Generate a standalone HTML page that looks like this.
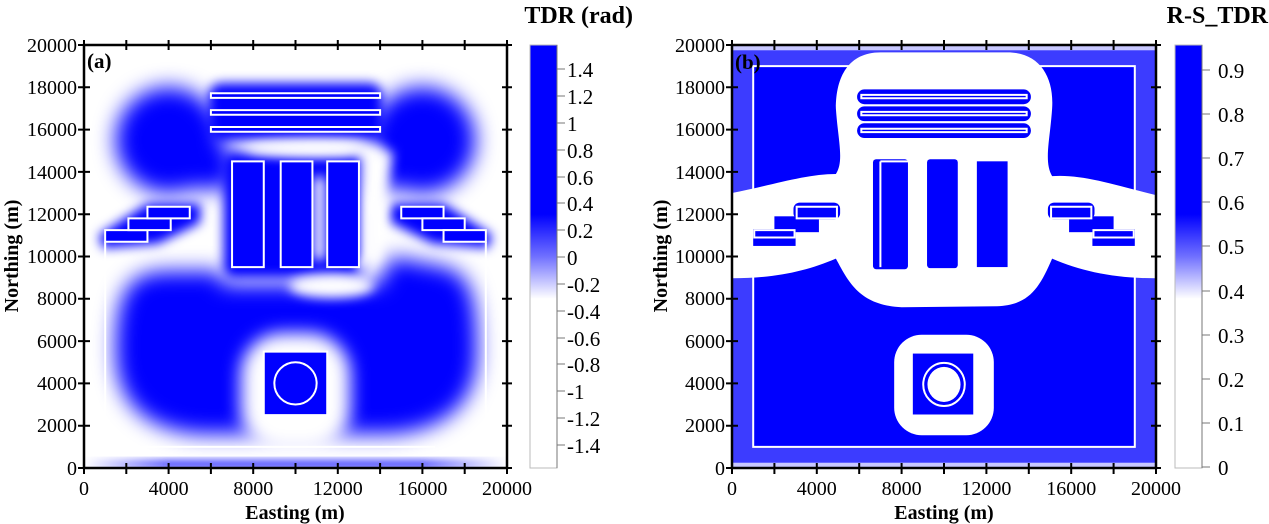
<!DOCTYPE html>
<html><head><meta charset="utf-8"><style>
html,body{margin:0;padding:0;background:#fff;}
svg{display:block;font-family:"Liberation Serif",serif;}
</style></head><body>
<svg width="1269" height="524" viewBox="0 0 1269 524" xmlns="http://www.w3.org/2000/svg">
<defs>
<filter id="b7" x="-50%" y="-50%" width="200%" height="200%"><feGaussianBlur stdDeviation="500"/></filter>
<filter id="b5" x="-50%" y="-50%" width="200%" height="200%"><feGaussianBlur stdDeviation="420"/></filter>
<filter id="b4" x="-50%" y="-50%" width="200%" height="200%"><feGaussianBlur stdDeviation="260"/></filter>
<filter id="b2" x="-50%" y="-50%" width="200%" height="200%"><feGaussianBlur stdDeviation="200"/></filter>
<linearGradient id="cb" x1="0" y1="0" x2="0" y2="1">
<stop offset="0" stop-color="#0000ff"/><stop offset="0.40" stop-color="#0000ff"/><stop offset="0.5" stop-color="#7070ff"/><stop offset="0.6" stop-color="#ffffff"/><stop offset="1" stop-color="#ffffff"/>
</linearGradient>
<linearGradient id="bs" x1="0" y1="0" x2="1" y2="0">
<stop offset="0" stop-color="#fff"/><stop offset="0.2" stop-color="#2020ff"/><stop offset="0.8" stop-color="#2020ff"/><stop offset="1" stop-color="#fff"/>
</linearGradient>
</defs>

<!-- ===== PLOT A ===== -->
<svg x="84" y="45" width="423" height="423" viewBox="0 0 20000 20000" preserveAspectRatio="none">
<g transform="translate(0,20000) scale(1,-1)">
<rect width="20000" height="20000" fill="#fff"/>
<g fill="#0000ff">
<g filter="url(#b7)">
<path d="M1500 5500 C1500 8500 2200 9300 4000 9300 L6500 9300 L6500 8700 L14000 8700 L14500 10000 L17000 9500 C18300 9200 18600 8000 18600 5500 C18600 3000 17000 1800 14500 1600 L5500 1600 C3000 1800 1500 3000 1500 5500 Z"/>
<ellipse cx="4000" cy="15500" rx="2500" ry="2500"/>
<ellipse cx="16000" cy="15500" rx="2500" ry="2500"/>
<rect x="4500" y="13200" width="2500" height="2000"/>
<rect x="13000" y="13200" width="2500" height="2000"/>
</g>
<g filter="url(#b4)">
<rect x="5900" y="15500" width="8200" height="2700" rx="600"/>
<rect x="6600" y="9000" width="6700" height="5900" rx="500"/>
<path d="M700 11000 L3000 12500 L5500 12500 L5500 11600 L3500 10600 L900 10400 Z"/>
<path d="M19300 11000 L17000 12500 L14500 12500 L14500 11600 L16500 10600 L19100 10400 Z"/>
</g>
</g>
<g fill="#fff">
<g filter="url(#b5)">
<rect x="7400" y="800" width="5200" height="5600" rx="2000"/>
</g>
<g filter="url(#b4)">
<rect x="10850" y="9800" width="550" height="4000" rx="250"/>
<ellipse cx="11700" cy="8600" rx="2000" ry="550"/>
<path d="M13200 14800 L14600 15000 L14300 12500 L13400 10500 L12800 9500 L13300 9200 L14000 10400 Z"/>
<rect x="13100" y="9800" width="900" height="5000"/>
<ellipse cx="11000" cy="15100" rx="3300" ry="400"/>
</g>
</g>
<rect x="0" y="0" width="20000" height="350" fill="url(#bs)" filter="url(#b2)"/>
<g fill="#0000ff" stroke="#fff" stroke-width="2">
<rect x="6000" y="17500" width="8000" height="220" vector-effect="non-scaling-stroke"/>
<rect x="6000" y="16700" width="8000" height="220" vector-effect="non-scaling-stroke"/>
<rect x="6000" y="15900" width="8000" height="220" vector-effect="non-scaling-stroke"/>
<rect x="7000" y="9500" width="1500" height="5000" vector-effect="non-scaling-stroke"/>
<rect x="9300" y="9500" width="1500" height="5000" vector-effect="non-scaling-stroke"/>
<rect x="11500" y="9500" width="1500" height="5000" vector-effect="non-scaling-stroke"/>
<rect x="1000" y="10700" width="2000" height="550" vector-effect="non-scaling-stroke"/>
<rect x="2100" y="11250" width="2000" height="550" vector-effect="non-scaling-stroke"/>
<rect x="3000" y="11800" width="2000" height="550" vector-effect="non-scaling-stroke"/>
<rect x="15000" y="11800" width="2000" height="550" vector-effect="non-scaling-stroke"/>
<rect x="16000" y="11250" width="2000" height="550" vector-effect="non-scaling-stroke"/>
<rect x="17000" y="10700" width="2000" height="550" vector-effect="non-scaling-stroke"/>
<rect x="8500" y="2500" width="3000" height="3000" vector-effect="non-scaling-stroke"/>
<ellipse cx="10000" cy="4000" rx="1000" ry="1000" vector-effect="non-scaling-stroke"/>
</g>
<g stroke="#fff" stroke-width="2" fill="none">
<line x1="1000" y1="1000" x2="16600" y2="1000" vector-effect="non-scaling-stroke"/>
<line x1="1000" y1="1000" x2="1000" y2="10700" vector-effect="non-scaling-stroke"/>
<line x1="19000" y1="1000" x2="19000" y2="10700" vector-effect="non-scaling-stroke"/>
</g>
</g>
</svg>

<!-- ===== PLOT B ===== -->
<svg x="732" y="45" width="424" height="423" viewBox="0 0 20000 20000" preserveAspectRatio="none">
<g transform="translate(0,20000) scale(1,-1)">
<rect width="20000" height="20000" fill="#3c3cff"/>
<rect x="1000" y="1000" width="18000" height="18000" fill="#0000ff" stroke="#fff" stroke-width="2" vector-effect="non-scaling-stroke"/>
<rect x="0" y="0" width="20000" height="250" fill="#c8c8ff"/>
<rect x="0" y="19750" width="20000" height="250" fill="#c8c8ff"/>
<path fill="#fff" d="M0 13000 C2000 13400 3500 13900 4900 13900 C5300 14500 5000 15500 4900 17000 C4900 18500 5500 19650 7000 19650 L13000 19650 C14500 19650 15200 18500 15100 17000 C15000 15500 14700 14500 15100 13800 C16500 13900 18000 13400 20000 12900 L20000 8970 C18000 8970 16500 9300 15100 9900 C14500 8500 14000 7700 12500 7650 L8000 7600 C6000 7700 5500 8800 4900 9900 C3500 9300 2000 8970 0 8970 Z"/>
<g fill="#0000ff">
<rect x="5900" y="17200" width="8200" height="700" rx="350"/>
<rect x="5900" y="16400" width="8200" height="700" rx="350"/>
<rect x="5900" y="15600" width="8200" height="700" rx="350"/>
<rect x="6650" y="9400" width="1650" height="5200" rx="150"/>
<rect x="9200" y="9450" width="1450" height="5150" rx="150"/>
<rect x="11550" y="9500" width="1450" height="5000"/>
<rect x="1000" y="10500" width="2000" height="800"/>
<rect x="2000" y="11150" width="2100" height="750"/>
<rect x="2900" y="11750" width="2200" height="800" rx="300"/>
<rect x="14900" y="11750" width="2200" height="800" rx="300"/>
<rect x="15900" y="11150" width="2100" height="750"/>
<rect x="17000" y="10500" width="2000" height="800"/>
</g>
<g fill="none" stroke="#fff" stroke-width="2">
<rect x="6100" y="17480" width="7800" height="160" vector-effect="non-scaling-stroke"/>
<rect x="6100" y="16680" width="7800" height="160" vector-effect="non-scaling-stroke"/>
<rect x="6100" y="15880" width="7800" height="160" vector-effect="non-scaling-stroke"/>
<line x1="7000" y1="9500" x2="7000" y2="14500" vector-effect="non-scaling-stroke"/>
<line x1="7000" y1="14500" x2="8400" y2="14500" vector-effect="non-scaling-stroke"/>
<rect x="1050" y="10900" width="1900" height="350" vector-effect="non-scaling-stroke"/>
<rect x="3050" y="11800" width="1900" height="550" vector-effect="non-scaling-stroke"/>
<rect x="15050" y="11800" width="1900" height="550" vector-effect="non-scaling-stroke"/>
<rect x="17050" y="10900" width="1900" height="350" vector-effect="non-scaling-stroke"/>
</g>
<rect x="7650" y="1550" width="4700" height="4750" rx="1300" fill="#fff"/>
<rect x="8530" y="2530" width="2850" height="2880" fill="#0000ff"/>
<ellipse cx="10000" cy="3950" rx="980" ry="1020" fill="none" stroke="#fff" stroke-width="2" vector-effect="non-scaling-stroke"/>
<ellipse cx="10000" cy="3950" rx="780" ry="830" fill="#fff"/>
</g>
</svg>

<!-- frames & ticks -->
<g stroke="#000" stroke-width="2.5" fill="none">
<rect x="84" y="45" width="423" height="423"/>
<rect x="732" y="45" width="424" height="423"/>
</g>
<g stroke="#000" stroke-width="2">
<path d="M78 45h12M78 87.3h12M78 129.6h12M78 171.9h12M78 214.2h12M78 256.5h12M78 298.8h12M78 341.1h12M78 383.4h12M78 425.7h12M78 468h12"/>
<path d="M502 45h10M502 87.3h10M502 129.6h10M502 171.9h10M502 214.2h10M502 256.5h10M502 298.8h10M502 341.1h10M502 383.4h10M502 425.7h10M502 468h10"/>
<path d="M84 40v10M126.3 40v10M168.6 40v10M210.9 40v10M253.2 40v10M295.5 40v10M337.8 40v10M380.1 40v10M422.4 40v10M464.7 40v10M507 40v10"/>
<path d="M84 463v11M126.3 463v11M168.6 463v11M210.9 463v11M253.2 463v11M295.5 463v11M337.8 463v11M380.1 463v11M422.4 463v11M464.7 463v11M507 463v11"/>
<path d="M726 45h12M726 87.3h12M726 129.6h12M726 171.9h12M726 214.2h12M726 256.5h12M726 298.8h12M726 341.1h12M726 383.4h12M726 425.7h12M726 468h12"/>
<path d="M1151 45h10M1151 87.3h10M1151 129.6h10M1151 171.9h10M1151 214.2h10M1151 256.5h10M1151 298.8h10M1151 341.1h10M1151 383.4h10M1151 425.7h10M1151 468h10"/>
<path d="M732 40v10M774.4 40v10M816.8 40v10M859.2 40v10M901.6 40v10M944 40v10M986.4 40v10M1028.8 40v10M1071.2 40v10M1113.6 40v10M1156 40v10"/>
<path d="M732 463v11M774.4 463v11M816.8 463v11M859.2 463v11M901.6 463v11M944 463v11M986.4 463v11M1028.8 463v11M1071.2 463v11M1113.6 463v11M1156 463v11"/>
</g>

<g font-size="20" fill="#000">
<g text-anchor="end">
<text x="77" y="52">20000</text><text x="77" y="94">18000</text><text x="77" y="136">16000</text><text x="77" y="179">14000</text><text x="77" y="221">12000</text><text x="77" y="263">10000</text><text x="77" y="305">8000</text><text x="77" y="348">6000</text><text x="77" y="390">4000</text><text x="77" y="432">2000</text><text x="77" y="475">0</text>
<text x="725" y="52">20000</text><text x="725" y="94">18000</text><text x="725" y="136">16000</text><text x="725" y="179">14000</text><text x="725" y="221">12000</text><text x="725" y="263">10000</text><text x="725" y="305">8000</text><text x="725" y="348">6000</text><text x="725" y="390">4000</text><text x="725" y="432">2000</text><text x="725" y="475">0</text>
</g>
<g text-anchor="middle">
<text x="84" y="495">0</text><text x="168.6" y="495">4000</text><text x="253.2" y="495">8000</text><text x="337.8" y="495">12000</text><text x="422.4" y="495">16000</text><text x="507" y="495">20000</text>
<text x="732" y="495">0</text><text x="816.8" y="495">4000</text><text x="901.6" y="495">8000</text><text x="986.4" y="495">12000</text><text x="1071.2" y="495">16000</text><text x="1156" y="495">20000</text>
</g>
</g>
<g font-weight="bold" font-size="20" fill="#000" text-anchor="middle">
<text x="295" y="519">Easting (m)</text>
<text x="944" y="519">Easting (m)</text>
<text transform="translate(18,256) rotate(-90)">Northing (m)</text>
<text transform="translate(667,256) rotate(-90)">Northing (m)</text>
</g>
<g font-weight="bold" font-size="21" fill="#000">
<text x="87" y="68">(a)</text>
<text x="735" y="69">(b)</text>
</g>
<g font-weight="bold" font-size="24" fill="#000" text-anchor="end">
<text x="633" y="23">TDR (rad)</text>
<text x="1268" y="23">R-S_TDR</text>
</g>

<!-- colorbars -->
<rect x="530" y="45" width="27" height="423" fill="url(#cb)" stroke="#bbb" stroke-width="1"/>
<rect x="1175" y="45" width="27" height="423" fill="url(#cb)" stroke="#bbb" stroke-width="1"/>
<g stroke="#777" stroke-width="1">
<path d="M557 69h8M557 96h8M557 123h8M557 150h8M557 177h8M557 203h8M557 230h8M557 257h8M557 284h8M557 311h8M557 338h8M557 364h8M557 391h8M557 418h8M557 445h8M557 45v423"/>
<path d="M1202 70h8M1202 114h8M1202 158h8M1202 202h8M1202 246h8M1202 291h8M1202 335h8M1202 379h8M1202 423h8M1202 467h8M1202 45v423"/>
</g>
<g font-size="21" fill="#000">
<text x="567" y="77">1.4</text><text x="567" y="104">1.2</text><text x="567" y="131">1</text><text x="567" y="158">0.8</text><text x="567" y="185">0.6</text><text x="567" y="211">0.4</text><text x="567" y="238">0.2</text><text x="567" y="265">0</text><text x="567" y="292">-0.2</text><text x="567" y="319">-0.4</text><text x="567" y="346">-0.6</text><text x="567" y="372">-0.8</text><text x="567" y="399">-1</text><text x="567" y="426">-1.2</text><text x="567" y="453">-1.4</text>
<text x="1218" y="78">0.9</text><text x="1218" y="122">0.8</text><text x="1218" y="166">0.7</text><text x="1218" y="210">0.6</text><text x="1218" y="254">0.5</text><text x="1218" y="299">0.4</text><text x="1218" y="343">0.3</text><text x="1218" y="387">0.2</text><text x="1218" y="431">0.1</text><text x="1218" y="475">0</text>
</g>
</svg>
</body></html>
